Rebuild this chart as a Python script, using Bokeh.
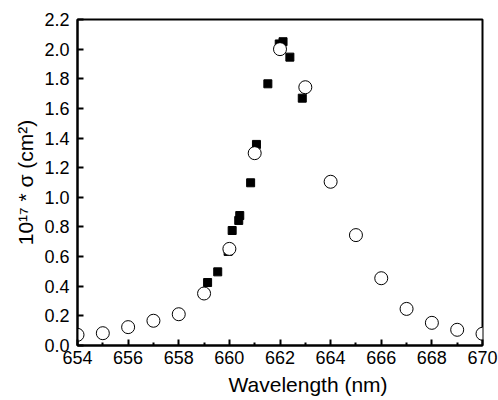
from bokeh.plotting import figure
from bokeh.models import FixedTicker, PrintfTickFormatter, Title, Range1d
from bokeh.embed import file_html
from bokeh.resources import INLINE

# Open circles series
circle_x = [654, 655, 656, 657, 658, 659, 660, 661, 662, 663, 664, 665, 666, 667, 668, 669, 670]
circle_y = [0.072, 0.083, 0.124, 0.167, 0.211, 0.351, 0.652, 1.298, 2.0, 1.743, 1.105,
            0.745, 0.454, 0.247, 0.153, 0.106, 0.079]

# Filled squares series
square_x = [659.14, 659.54, 659.95, 660.11, 660.37, 660.41, 660.84, 661.07, 661.52,
            661.97, 662.12, 662.39, 662.88]
square_y = [0.425, 0.497, 0.635, 0.776, 0.844, 0.877, 1.098, 1.357, 1.766,
            2.035, 2.05, 1.946, 1.669]

x_ticks = [654, 656, 658, 660, 662, 664, 666, 668, 670]
y_ticks = [0.0, 0.2, 0.4, 0.6, 0.8, 1.0, 1.2, 1.4, 1.6, 1.8, 2.0, 2.2]

FONT = "Liberation Sans"

p = figure(width=498, height=400, output_backend="svg", toolbar_location=None,
           x_range=Range1d(654, 670), y_range=Range1d(0, 2.2),
           min_border_left=77, min_border_right=16, min_border_top=19, min_border_bottom=55)

p.background_fill_color = "white"
p.border_fill_color = "white"
p.outline_line_color = "black"
p.outline_line_width = 2
p.grid.visible = False

p.scatter(square_x, square_y, marker="square", size=8, fill_color="black", line_color="black")
p.scatter(circle_x, circle_y, marker="circle", size=13, fill_color="white",
          line_color="black", line_width=1)

xa = p.xaxis[0]
xa.ticker = FixedTicker(ticks=x_ticks, minor_ticks=list(range(655, 670, 2)))
xa.major_tick_in = 6
xa.major_tick_out = 0
xa.minor_tick_in = 3
xa.minor_tick_out = 0
xa.axis_line_width = 2
xa.major_tick_line_width = 2
xa.minor_tick_line_width = 2
xa.major_label_text_font = FONT
xa.major_label_text_font_size = "18px"
xa.major_label_text_color = "black"
xa.major_label_standoff = 5

ya = p.yaxis[0]
ya.ticker = FixedTicker(ticks=y_ticks)
ya.formatter = PrintfTickFormatter(format="%.1f")
ya.major_tick_in = 6
ya.major_tick_out = 0
ya.minor_tick_line_color = None
ya.axis_line_width = 2
ya.major_tick_line_width = 2
ya.major_label_text_font = FONT
ya.major_label_text_font_size = "18px"
ya.major_label_text_color = "black"
ya.major_label_standoff = 8
ya.axis_label = "10¹⁷ * σ (cm²)"
ya.axis_label_text_font = FONT
ya.axis_label_text_font_size = "21px"
ya.axis_label_text_font_style = "normal"
ya.axis_label_text_color = "black"
ya.axis_label_standoff = 4

xt = Title(text="Wavelength (nm)", align="left", offset=151, text_font=FONT,
           text_font_size="21px", text_font_style="normal", text_color="black", standoff=9)
p.add_layout(xt, "below")

open("out.html", "w").write(file_html(p, INLINE))
